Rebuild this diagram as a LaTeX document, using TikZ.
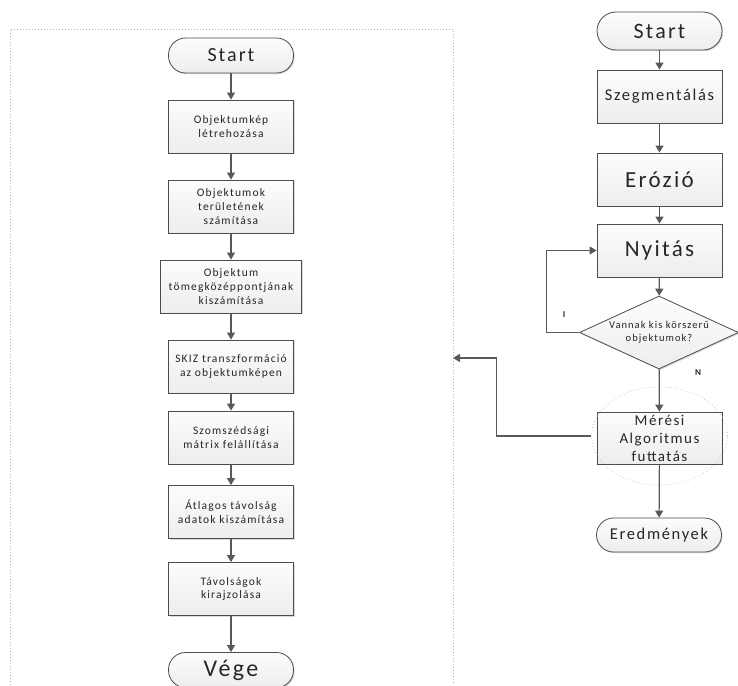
\documentclass[tikz,border=0pt]{standalone}
\usepackage{fontspec}
\setmainfont{Carlito}[LetterSpace=10]
\usetikzlibrary{arrows.meta,shapes.geometric,shadows}

\newcommand{\fs}[1]{\fontsize{#1}{\dimexpr #1pt*6/5\relax}\selectfont}

\begin{document}
\begin{tikzpicture}[x=1pt,y=-1pt,
  every node/.style={text=black!85},
  box/.style={draw=black!70,line width=.8pt,top color=gray!2,bottom color=gray!14,
    drop shadow={shadow xshift=1.2pt,shadow yshift=-1.2pt,opacity=.3},
    minimum width=125pt,minimum height=53pt,inner sep=1pt,align=center},
  proc/.style={box,font=\fs{11.5}},
  term/.style={box,rounded corners=17pt,minimum height=35pt},
  dec/.style={box,diamond,aspect=2.2,inner sep=0pt,minimum width=159pt,
    minimum height=73pt,font=\fs{10.5}},
  flow/.style={draw=black!65,line width=1.2pt,-{Triangle[width=8pt,length=7pt]}},
  frame/.style={draw=gray!60,line width=.6pt,dash pattern=on .8pt off 2.2pt}]
 \useasboundingbox (0,0) rectangle (738,685);
 % dotted frame round the left flow
 \draw[frame] (10,685)--(10,29)--(453,29)--(453,685);
 % left column
 \node[term,font=\fs{20}] (s1) at (231,55.5) {Start};
 \node[proc] (b1) at (231,126.5) {Objektumkép\\létrehozása};
 \node[proc] (b2) at (231,206.5) {Objektumok\\területének\\számítása};
 \node[proc,minimum width=141pt] (b3) at (231,286.5) {Objektum\\tömegközéppontjának\\kiszámítása};
 \node[proc] (b4) at (231,366.5) {SKIZ transzformáció\\az objektumképen};
 \node[proc] (b5) at (231,437.5) {Szomszédsági\\mátrix felállítása};
 \node[proc] (b6) at (231,512) {Átlagos távolság\\adatok kiszámítása};
 \node[proc] (b7) at (231,589) {Távolságok\\kirajzolása};
 \node[term,font=\fs{24}] (vege) at (231,670) {Vége};
 \foreach \a/\b in {s1/b1,b1/b2,b2/b3,b3/b4,b4/b5,b5/b6,b6/b7,b7/vege}
  \draw[flow] (\a)--(\b);
 % right column
 \node[term,font=\fs{22},minimum height=38pt,rounded corners=19pt] (rs) at (659.5,31) {Start};
 \node[proc,font=\fs{16.5}] (seg) at (659.5,96.5) {Szegmentálás};
 \node[proc,font=\fs{23}] (eroz) at (659.5,179.5) {Erózió};
 \node[proc,font=\fs{23}] (nyit) at (659.5,250.5) {Nyitás};
 \node[dec] (kis) at (659,332.5) {Vannak kis körszerű\\objektumok?};
 \node[proc,font=\fs{15},minimum height=52pt] (meres) at (659.5,438) {Mérési\\Algoritmus\\futtatás};
 \node[draw=gray!55,line width=.6pt,dash pattern=on .8pt off 2.4pt,ellipse,
   minimum width=136pt,minimum height=98pt] (ring) at (659.5,436) {};
 \node[term,font=\fs{16.5},minimum height=34pt] (ered) at (659,535) {Eredmények};
 \foreach \a/\b in {rs/seg,seg/eroz,eroz/nyit,nyit/kis,kis/meres,meres/ered}
  \draw[flow] (\a)--(\b);
 \draw[flow] (kis.west)--++(-33,0)|-(nyit.west);
 \coordinate (back) at (453,358);
 \draw[flow] (ring.west)--++(-94.5,0)|-(back);
 \node[font=\fs{9}\bfseries] (igen) at (564,315) {I};
 \node[font=\fs{9}\bfseries] (nem) at (698,373) {N};
\end{tikzpicture}
\end{document}
